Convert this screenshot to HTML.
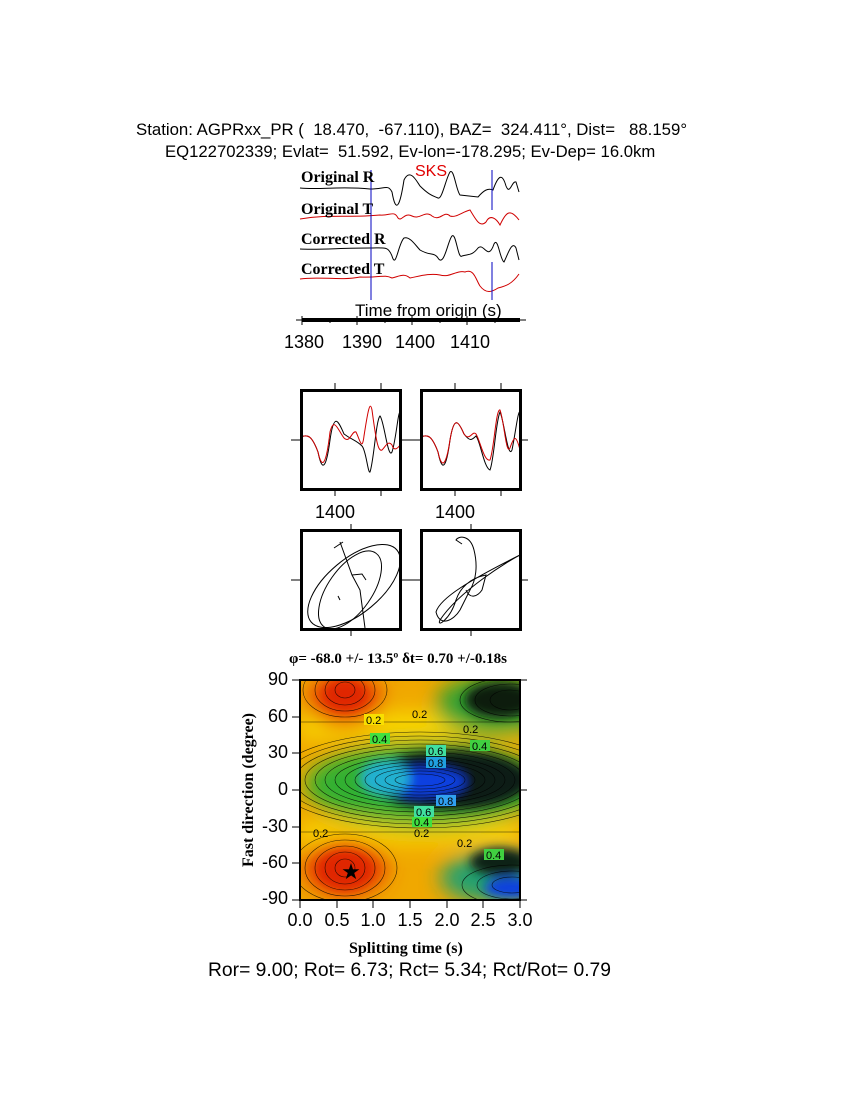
<!DOCTYPE html>
<html><head><style>
body{margin:0;background:#fff;}
.t{position:absolute;font-family:"Liberation Sans",sans-serif;color:#000;white-space:nowrap}
.s{position:absolute;font-family:"Liberation Serif",serif;font-weight:bold;white-space:nowrap}
.c{position:absolute;font-family:"Liberation Sans",sans-serif;font-size:18px;width:60px;text-align:center}
</style></head><body>
<div style="position:relative;width:850px;height:1100px;overflow:hidden">
<div class="t" style="left:136px;top:120px;font-size:16.8px">Station: AGPRxx_PR (&nbsp; 18.470,&nbsp; -67.110), BAZ=&nbsp; 324.411°, Dist=&nbsp;&nbsp; 88.159°</div>
<div class="t" style="left:165px;top:142px;font-size:16.7px">EQ122702339; Evlat=&nbsp; 51.592, Ev-lon=-178.295; Ev-Dep= 16.0km</div>

<svg width="850" height="1100" style="position:absolute;left:0;top:0">
<g fill="none" stroke-width="1">
<path d="M300 188 C320 190 340 186 370 189 C385 189 388 184 392 192 C396 215 400 206 404 180 C410 168 416 180 420 186 C430 196 434 196 438 198 C442 200 446 178 450 172 C454 168 456 190 460 195 L478 197 C484 190 488 188 493 190 C498 176 502 172 506 186 C510 196 512 180 516 182 L519 192" stroke="#000"/>
<path d="M300 219 C330 214 350 218 380 215 C390 216 394 210 398 218 C402 222 404 212 412 216 C420 220 425 210 432 216 C440 222 444 210 450 216 C456 218 462 212 470 210 C476 220 480 228 486 222 C490 214 496 218 500 225 C506 212 510 208 519 220" stroke="#d00000"/>
<path d="M300 249 C320 250 340 248 370 248 C385 248 388 246 392 256 C396 270 398 244 404 238 C410 236 416 246 420 250 C430 256 434 252 438 258 C444 268 448 240 452 236 C456 232 458 260 462 256 C468 254 472 256 478 248 C484 242 488 262 494 244 C498 236 500 260 504 262 C508 254 512 240 516 248 L519 260" stroke="#000"/>
<path d="M300 279 C320 276 340 281 360 277 C380 278 384 274 392 278 C400 276 404 273 410 278 C420 276 430 273 440 275 C450 278 456 270 465 272 C474 268 476 280 480 286 C486 294 492 292 498 288 C506 286 512 284 519 274" stroke="#d00000"/>
</g>
<line x1="371" y1="170" x2="371" y2="300" stroke="#0000c0"/>
<line x1="492" y1="170" x2="492" y2="210" stroke="#0000c0"/>
<line x1="492" y1="262" x2="492" y2="300" stroke="#0000c0"/>
<rect x="302" y="318" width="218" height="4" fill="#000"/>
<line x1="296" y1="320" x2="526" y2="320" stroke="#000"/>
<g stroke="#000"><line x1="302" y1="316" x2="302" y2="325"/><line x1="357" y1="316" x2="357" y2="325"/><line x1="412" y1="316" x2="412" y2="325"/><line x1="467" y1="316" x2="467" y2="325"/><line x1="330" y1="318" x2="330" y2="323"/><line x1="385" y1="318" x2="385" y2="323"/><line x1="440" y1="318" x2="440" y2="323"/><line x1="495" y1="318" x2="495" y2="323"/></g>

<g fill="none">
<g stroke="#000" stroke-width="1">
<line x1="335" y1="383" x2="335" y2="389"/><line x1="381" y1="383" x2="381" y2="389"/><line x1="335" y1="490" x2="335" y2="496"/><line x1="381" y1="490" x2="381" y2="496"/>
<line x1="455" y1="383" x2="455" y2="389"/><line x1="501" y1="383" x2="501" y2="389"/><line x1="455" y1="490" x2="455" y2="496"/><line x1="501" y1="490" x2="501" y2="496"/>
<line x1="291" y1="440" x2="300" y2="440"/><line x1="521" y1="440" x2="528" y2="440"/><line x1="401" y1="440" x2="420" y2="440"/>
<line x1="351" y1="524" x2="351" y2="530"/><line x1="471" y1="524" x2="471" y2="530"/><line x1="351" y1="630" x2="351" y2="636"/><line x1="471" y1="630" x2="471" y2="636"/>
<line x1="291" y1="580" x2="300" y2="580"/><line x1="521" y1="580" x2="528" y2="580"/><line x1="401" y1="580" x2="420" y2="580"/>
<path d="M301 437 C308 434 312 436 318 452 C322 472 326 470 330 440 C334 412 338 420 344 434 C352 440 356 440 362 446 C366 450 368 474 370 472 C374 460 376 420 380 416 C384 420 388 460 392 452 C396 440 398 412 400 412"/>
<path d="M301 437 C308 434 312 436 318 452 C322 470 326 466 330 432 C334 416 338 430 344 438 C350 444 352 430 356 432 C360 440 362 452 364 436 C368 410 370 400 372 410 C376 440 378 452 382 450 C386 446 388 440 392 445 C394 452 398 448 400 445" stroke="#d00000"/>
<path d="M421 437 C428 434 432 436 438 452 C442 472 446 470 450 440 C454 416 458 420 464 434 C470 442 472 440 476 436 C480 440 484 468 490 470 C494 460 496 420 500 412 C504 420 508 460 512 450 C516 430 518 410 520 412"/>
<path d="M421 437 C428 434 432 436 438 452 C442 470 446 466 450 440 C454 416 458 420 464 434 C470 442 472 430 476 434 C480 440 484 462 490 460 C494 450 496 408 500 410 C504 420 506 456 510 448 C514 436 516 434 520 450" stroke="#d00000"/>
<ellipse cx="354" cy="586" rx="56" ry="27" transform="rotate(-40 354 586)"/>
<ellipse cx="350" cy="590" rx="45" ry="22" transform="rotate(-55 350 590)"/>
<path d="M334 548 L343 542 M340 542 L352 575 L360 590 L365 628 M352 575 L362 574 L366 580 M340 600 L338 596"/>
<path d="M462 544 L456 540 C458 536 470 534 474 550 C478 566 476 580 470 590 L460 610 C454 620 440 628 436 612 C440 598 470 580 520 555 C510 560 460 590 440 620 C436 628 450 620 456 600 C460 588 470 578 486 575 L482 590 C478 596 470 600 466 590"/>
</g>
<rect x="301.5" y="390.5" width="99" height="99" stroke="#000" stroke-width="3"/>
<rect x="421.5" y="390.5" width="99" height="99" stroke="#000" stroke-width="3"/>
<rect x="301.5" y="530.5" width="99" height="99" stroke="#000" stroke-width="3"/>
<rect x="421.5" y="530.5" width="99" height="99" stroke="#000" stroke-width="3"/>
</g>

<defs>
<clipPath id="c"><rect x="300" y="680" width="220" height="220"/></clipPath>
<filter id="b" x="-50%" y="-50%" width="200%" height="200%"><feGaussianBlur stdDeviation="10"/></filter>
<filter id="b2" x="-50%" y="-50%" width="200%" height="200%"><feGaussianBlur stdDeviation="5"/></filter>
</defs>
<g clip-path="url(#c)">
<rect x="300" y="680" width="220" height="220" fill="#f0a800"/>
<g filter="url(#b)">
<rect x="300" y="712" width="220" height="26" fill="#f8d800"/>
<rect x="300" y="822" width="220" height="22" fill="#f8d400"/>
<ellipse cx="345" cy="700" rx="38" ry="26" fill="#e84000"/>
<ellipse cx="345" cy="868" rx="42" ry="28" fill="#e84000"/>
<ellipse cx="425" cy="785" rx="120" ry="42" fill="#30b030"/>
<ellipse cx="495" cy="705" rx="60" ry="30" fill="#30a030"/>
<ellipse cx="495" cy="878" rx="55" ry="25" fill="#20a070"/>
</g>
<g filter="url(#b2)">
<ellipse cx="450" cy="780" rx="80" ry="30" fill="#0a1a18"/>
<ellipse cx="500" cy="700" rx="35" ry="18" fill="#0a1a0a"/>
<ellipse cx="500" cy="862" rx="30" ry="14" fill="#0a2018"/>
<ellipse cx="420" cy="782" rx="45" ry="15" fill="#1040e0"/>
<ellipse cx="385" cy="778" rx="25" ry="18" fill="#20b0d0"/>
<ellipse cx="512" cy="888" rx="28" ry="10" fill="#1040e0"/>
<ellipse cx="345" cy="695" rx="22" ry="16" fill="#e02800"/>
<ellipse cx="345" cy="870" rx="28" ry="20" fill="#e02800"/>
</g>
<g fill="none" stroke="#000" stroke-width="0.6" opacity="0.8">
<ellipse cx="420" cy="780" rx="25" ry="6"/><ellipse cx="420" cy="780" rx="35" ry="9"/><ellipse cx="420" cy="780" rx="45" ry="12"/><ellipse cx="420" cy="780" rx="55" ry="15"/><ellipse cx="420" cy="780" rx="65" ry="18"/><ellipse cx="420" cy="780" rx="75" ry="21"/><ellipse cx="420" cy="780" rx="85" ry="24"/><ellipse cx="420" cy="780" rx="95" ry="28"/><ellipse cx="420" cy="780" rx="105" ry="32"/><ellipse cx="420" cy="780" rx="115" ry="36"/><ellipse cx="420" cy="780" rx="125" ry="40"/><ellipse cx="420" cy="780" rx="135" ry="44"/><ellipse cx="420" cy="780" rx="145" ry="48"/>
<ellipse cx="345" cy="868" rx="10" ry="9"/><ellipse cx="345" cy="868" rx="20" ry="16"/><ellipse cx="345" cy="868" rx="30" ry="22"/><ellipse cx="345" cy="868" rx="40" ry="28"/><ellipse cx="345" cy="868" rx="52" ry="34"/>
<ellipse cx="345" cy="690" rx="10" ry="8"/><ellipse cx="345" cy="690" rx="20" ry="15"/><ellipse cx="345" cy="690" rx="30" ry="21"/><ellipse cx="345" cy="690" rx="42" ry="27"/>
<ellipse cx="510" cy="700" rx="20" ry="10"/><ellipse cx="510" cy="700" rx="35" ry="16"/><ellipse cx="510" cy="700" rx="50" ry="22"/>
<ellipse cx="512" cy="885" rx="20" ry="8"/><ellipse cx="512" cy="885" rx="35" ry="14"/><ellipse cx="512" cy="885" rx="50" ry="20"/>
<line x1="300" y1="722" x2="520" y2="722"/><line x1="300" y1="832" x2="520" y2="832"/>
</g>
</g>
<rect x="300" y="680" width="220" height="220" fill="none" stroke="#000" stroke-width="2"/>
<g stroke="#000">
<line x1="292" y1="680" x2="300" y2="680"/><line x1="292" y1="717" x2="300" y2="717"/><line x1="292" y1="753" x2="300" y2="753"/><line x1="292" y1="790" x2="300" y2="790"/><line x1="292" y1="827" x2="300" y2="827"/><line x1="292" y1="863" x2="300" y2="863"/><line x1="292" y1="900" x2="300" y2="900"/>
<line x1="520" y1="680" x2="527" y2="680"/><line x1="520" y1="790" x2="527" y2="790"/><line x1="520" y1="900" x2="527" y2="900"/>
<line x1="300" y1="900" x2="300" y2="908"/><line x1="337" y1="900" x2="337" y2="908"/><line x1="373" y1="900" x2="373" y2="908"/><line x1="410" y1="900" x2="410" y2="908"/><line x1="447" y1="900" x2="447" y2="908"/><line x1="483" y1="900" x2="483" y2="908"/><line x1="520" y1="900" x2="520" y2="908"/>
</g>
<text x="351" y="879" font-size="22" text-anchor="middle" font-family="DejaVu Sans">★</text>
<g font-family="Liberation Sans" font-size="11">
<rect x="364" y="714" width="20" height="11" fill="#f8e000"/><text x="366" y="724">0.2</text>
<rect x="370" y="733" width="20" height="11" fill="#40e040"/><text x="372" y="743">0.4</text>
<rect x="426" y="745" width="20" height="11" fill="#40e0a0"/><text x="428" y="755">0.6</text>
<rect x="426" y="757" width="20" height="11" fill="#20a0e0"/><text x="428" y="767">0.8</text>
<rect x="470" y="740" width="20" height="11" fill="#40d040"/><text x="472" y="750">0.4</text>
<rect x="436" y="795" width="20" height="11" fill="#30a0f0"/><text x="438" y="805">0.8</text>
<rect x="414" y="806" width="20" height="11" fill="#40e0a0"/><text x="416" y="816">0.6</text>
<rect x="412" y="817" width="20" height="10" fill="#40e040"/><text x="414" y="826">0.4</text>
<rect x="484" y="849" width="20" height="11" fill="#40d040"/><text x="486" y="859">0.4</text>
<text x="313" y="837">0.2</text><text x="414" y="837">0.2</text><text x="457" y="847">0.2</text><text x="463" y="733">0.2</text><text x="412" y="718">0.2</text>
</g>
</svg>

<div class="s" style="left:301px;top:169px;font-size:16px">Original R</div>
<div class="s" style="left:301px;top:201px;font-size:16px">Original T</div>
<div class="s" style="left:301px;top:231px;font-size:16px">Corrected R</div>
<div class="s" style="left:301px;top:261px;font-size:16px">Corrected T</div>
<div class="t" style="left:415px;top:163px;font-size:16px;color:#e00000">SKS</div>
<div class="t" style="left:355px;top:301px;font-size:17px">Time from origin (s)</div>
<div class="c" style="left:274px;top:332px">1380</div>
<div class="c" style="left:332px;top:332px">1390</div>
<div class="c" style="left:385px;top:332px">1400</div>
<div class="c" style="left:440px;top:332px">1410</div>
<div class="t" style="left:315px;top:502px;font-size:18px">1400</div>
<div class="t" style="left:435px;top:502px;font-size:18px">1400</div>
<div class="s" style="left:289px;top:651px;font-size:15px">φ= -68.0 +/- 13.5º δt= 0.70 +/-0.18s</div>
<div class="t" style="left:252px;top:669px;font-size:18px;text-align:right;width:36px">90</div>
<div class="t" style="left:252px;top:706px;font-size:18px;text-align:right;width:36px">60</div>
<div class="t" style="left:252px;top:742px;font-size:18px;text-align:right;width:36px">30</div>
<div class="t" style="left:252px;top:779px;font-size:18px;text-align:right;width:36px">0</div>
<div class="t" style="left:252px;top:816px;font-size:18px;text-align:right;width:36px">-30</div>
<div class="t" style="left:252px;top:852px;font-size:18px;text-align:right;width:36px">-60</div>
<div class="t" style="left:252px;top:888px;font-size:18px;text-align:right;width:36px">-90</div>
<div class="c" style="left:270px;top:910px">0.0</div>
<div class="c" style="left:307px;top:910px">0.5</div>
<div class="c" style="left:343px;top:910px">1.0</div>
<div class="c" style="left:380px;top:910px">1.5</div>
<div class="c" style="left:417px;top:910px">2.0</div>
<div class="c" style="left:453px;top:910px">2.5</div>
<div class="c" style="left:490px;top:910px">3.0</div>
<div class="s" style="left:349px;top:940px;font-size:16px">Splitting time (s)</div>
<div class="s" style="left:164px;top:781px;font-size:16px;transform:rotate(-90deg);transform-origin:center;width:170px;text-align:center">Fast direction (degree)</div>
<div class="t" style="left:208px;top:960px;font-size:19.3px">Ror= 9.00; Rot= 6.73; Rct= 5.34; Rct/Rot= 0.79</div>
</div>
</body></html>
